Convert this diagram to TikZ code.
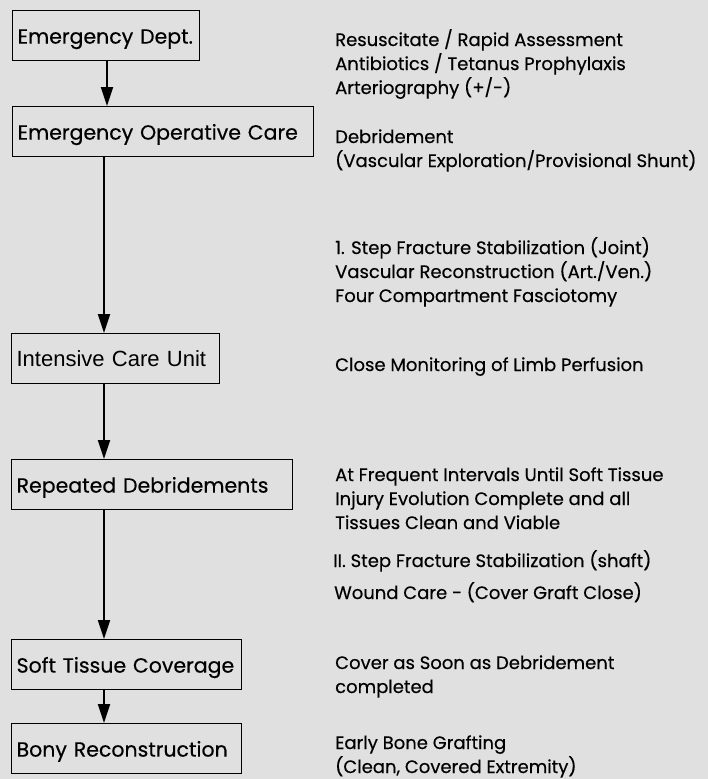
\documentclass[tikz,border=0pt]{standalone}
\usepackage{fontspec}
\setmainfont{Poppins}[FakeBold=0.4]
\newfontfamily\arialfont{Liberation Sans}
\usetikzlibrary{arrows.meta}
\definecolor{paper}{RGB}{224,224,224}
\tikzset{
  stage/.style={draw, line width=1.2pt, anchor=north west, minimum height=50pt, inner xsep=5pt,
    align=left, font=\fontsize{20.5}{24}\selectfont, text height=17pt, text depth=1pt},
  note/.style={anchor=base west, align=left, inner sep=0pt, font=\fontsize{18}{24}\selectfont},
  flow/.style={line width=2pt, -{Triangle[width=12pt,length=19pt]}}
}
\begin{document}
\begin{tikzpicture}[x=1pt,y=-1pt]
  \fill[paper] (0,0) rectangle (708,779);
  \useasboundingbox (0,0) rectangle (708,779);
  \coordinate (spine) at (104,0);

  \node[stage, text width=177pt] (ed) at (12,10) {Emergency Dept.};
  \node[stage, text width=291pt] (eoc) at (12,106) {Emergency Operative Care};
  \node[stage, text width=198pt, font=\arialfont\fontsize{22}{24}\selectfont] (icu) at (11,333) {Intensive Care Unit};
  \node[stage, text width=271pt] (rep) at (11,459) {Repeated Debridements};
  \node[stage, text width=220pt] (stc) at (11,639) {Soft Tissue Coverage};
  \node[stage, text width=220pt] (bony) at (11,723) {Bony Reconstruction};

  \draw[flow] ([xshift=3pt]ed.south -| spine) -- ([xshift=3pt]eoc.north -| spine);
  \draw[flow] (eoc.south -| spine) -- (icu.north -| spine);
  \draw[flow] (icu.south -| spine) -- (rep.north -| spine);
  \draw[flow] (rep.south -| spine) -- (stc.north -| spine);
  \draw[flow] (stc.south -| spine) -- (bony.north -| spine);

  % base of a note is its last line
  \node[note] (ned) at (335,94) {Resuscitate / Rapid Assessment\\Antibiotics / Tetanus Prophylaxis\\Arteriography (+/-)};
  \node[note] (neoc) at (335,167) {Debridement\\(Vascular Exploration/Provisional Shunt)};
  \node[note] (njoint) at (335,302) {1. Step Fracture Stabilization (Joint)\\Vascular Reconstruction (Art./Ven.)\\Four Compartment Fasciotomy};
  \node[note] (nicu) at (335,371) {Close Monitoring of Limb Perfusion};
  \node[note] (nrep) at (335,529) {At Frequent Intervals Until Soft Tissue\\Injury Evolution Complete and all\\Tissues Clean and Viable};
  \node[note] (nshaft) at (333,567) {II. Step Fracture Stabilization (shaft)};
  \node[note] (nwound) at (334,599) {Wound Care - (Cover Graft Close)};
  \node[note] (nstc) at (335,693) {Cover as Soon as Debridement\\completed};
  \node[note] (nbony) at (335,773) {Early Bone Grafting\\(Clean, Covered Extremity)};
\end{tikzpicture}
\end{document}
